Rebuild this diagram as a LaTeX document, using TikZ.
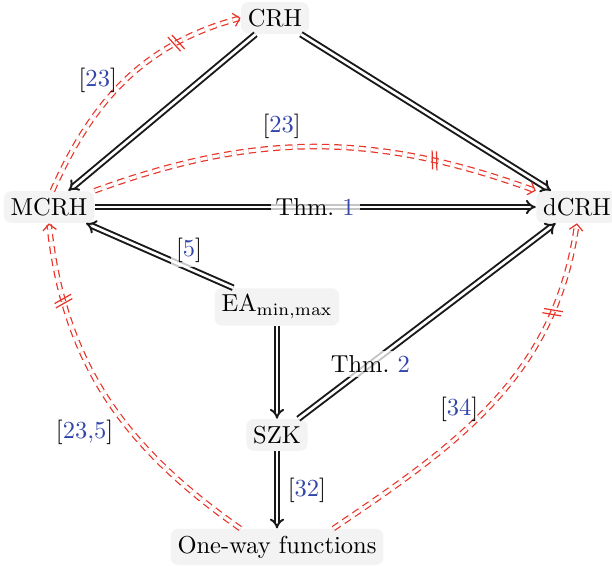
\documentclass[tikz,border=0pt]{standalone}
\usetikzlibrary{arrows.meta}
\definecolor{citeblue}{RGB}{50,70,170}
\definecolor{sepred}{RGB}{232,52,40}
\definecolor{nodegray}{RGB}{243,243,243}
\newcommand{\cit}[1]{[\textcolor{citeblue}{#1}]}
\begin{document}
\begin{tikzpicture}[x=0.408pt, y=-0.408pt,
  box/.style={fill=nodegray, rounded corners=3pt, inner sep=2.8pt},
  impl/.style={draw=black!90, double, double distance=1.1pt, line width=0.8pt, -{Implies}},
  sepa/.style={draw=sepred, double, double distance=1.3pt, line width=0.5pt, dash pattern=on 3pt off 2pt, -{Straight Barb[length=2.5pt,width=5.5pt]}},
  lbl/.style={fill=white, fill opacity=0.75, text opacity=1, inner sep=2pt},
  mk/.style={sloped, inner sep=0pt, minimum width=3.2pt, minimum height=7pt},
  mkline/.style={draw=sepred, line width=0.5pt}
]
\useasboundingbox (0,0) rectangle (612,566);

\node[box] (crh) at (275,18) {CRH};
\node[box] (mcrh) at (49,207) {MCRH};
\node[box] (dcrh) at (577,207) {dCRH};
\node[box] (ea) at (277,307) {$\mathrm{EA}_{\mathrm{min},\mathrm{max}}$};
\node[box] (szk) at (277,435) {SZK};
\node[box] (owf) at (277,547) {One-way functions};

% black implications
\draw[impl] (crh) -- (mcrh);
\draw[impl] (crh) -- (dcrh);
\draw[impl] (mcrh) -- node[lbl] {Thm.~\textcolor{citeblue}{1}} (dcrh);
\draw[impl] (ea) -- node[lbl, above, pos=0.3] {\cit{5}} (mcrh);
\draw[impl] (ea) -- (szk);
\draw[impl] (szk) -- node[lbl, pos=0.28] {Thm.~\textcolor{citeblue}{2}} (dcrh);
\draw[impl] (szk) -- node[lbl, anchor=west, xshift=2pt] {\cit{32}} (owf);

% red separations
\draw[sepa] (mcrh.78) to[out=66, in=195]
  node[mk, pos=0.75] (m1) {}
  node[pos=0.5, left=0pt, black] {\cit{23}} (crh.west);
\draw[mkline] (m1.north west) -- (m1.south) (m1.north) -- (m1.south east);

\draw[sepa] (mcrh.north east) to[out=20, in=160]
  node[mk, pos=0.78] (m2) {}
  node[pos=0.42, above=0pt, black] {\cit{23}} (dcrh.north west);
\draw[mkline] (m2.north west) -- (m2.south) (m2.north) -- (m2.south east);

\draw[sepa] ([xshift=-15pt]owf.north) to[out=145, in=-84]
  node[mk, pos=0.8] (m3) {}
  node[pos=0.38, left=4pt, black] {\cit{23,5}} (mcrh.south);
\draw[mkline] (m3.north west) -- (m3.south) (m3.north) -- (m3.south east);

\draw[sepa] ([xshift=23pt]owf.north) to[out=34, in=-98]
  node[mk, pos=0.78] (m4) {}
  node[pos=0.47, left=0pt, black] {\cit{34}} (dcrh.south);
\draw[mkline] (m4.north west) -- (m4.south) (m4.north) -- (m4.south east);
\end{tikzpicture}
\end{document}
